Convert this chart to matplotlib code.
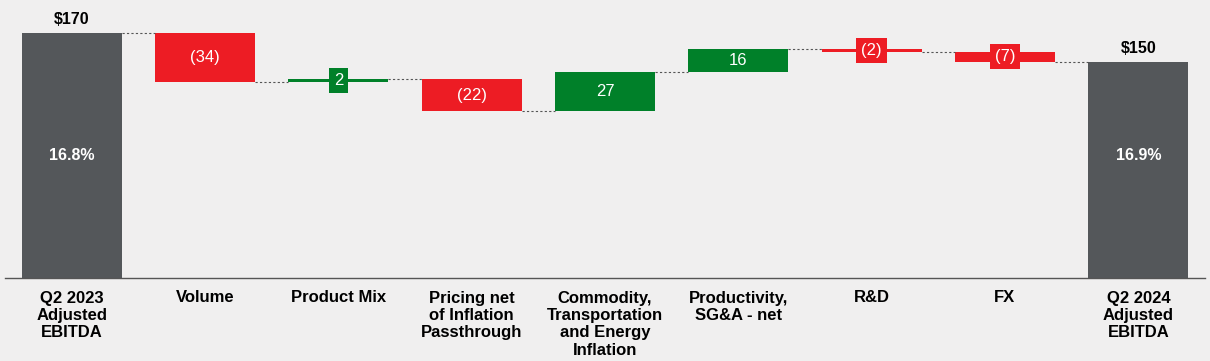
import numpy as np
import matplotlib.pyplot as plt
from matplotlib import font_manager

categories = ['Q2 2023\nAdjusted\nEBITDA', 'Volume', 'Product Mix',
              'Pricing net\nof Inflation\nPassthrough',
              'Commodity,\nTransportation\nand Energy\nInflation',
              'Productivity,\nSG&A - net', 'R&D', 'FX',
              'Q2 2024\nAdjusted\nEBITDA']
start_value = 170
end_value = 150
changes = [-34, 2, -22, 27, 16, -2, -7]
margins = ['16.8%', '16.9%']

names = {f.name for f in font_manager.fontManager.ttflist}
fam = 'Liberation Sans Narrow' if 'Liberation Sans Narrow' in names else 'Liberation Sans'
plt.rcParams['font.family'] = [fam, 'DejaVu Sans']

bg = '#f0efef'
dark = '#54575a'
red = '#ed1c24'
green = '#008029'

fig = plt.figure(figsize=(12.1, 3.61), dpi=100, facecolor=bg)
ax = fig.add_axes([5 / 1210, 83 / 361, 1200 / 1210, 278 / 361])
ax.set_facecolor(bg)

n = len(categories)
x = np.arange(n)
w = 0.75

# totals
ax.bar(0, start_value, width=w, color=dark)
ax.bar(n - 1, end_value, width=w, color=dark)
ax.text(0, start_value + 4, '$%d' % start_value, ha='center', va='bottom',
        fontsize=11.5, fontweight='bold')
ax.text(n - 1, end_value + 4, '$%d' % end_value, ha='center', va='bottom',
        fontsize=11.5, fontweight='bold')
ax.text(0, 85, margins[0], ha='center', va='center', color='white',
        fontsize=11.5, fontweight='bold')
ax.text(n - 1, 85, margins[1], ha='center', va='center', color='white',
        fontsize=11.5, fontweight='bold')

level = start_value
levels = [level]
for i, c in enumerate(changes):
    pos = i + 1
    bottom = level if c > 0 else level + c
    col = green if c > 0 else red
    ax.bar(pos, abs(c), bottom=bottom, width=w, color=col)
    lab = str(c) if c > 0 else '(%d)' % abs(c)
    mid = bottom + abs(c) / 2
    if abs(c) < 10:
        ax.text(pos, mid, lab, ha='center', va='center', color='white', fontsize=12,
                bbox=dict(boxstyle='square,pad=0.3', fc=col, ec='none'))
    else:
        ax.text(pos, mid, lab, ha='center', va='center', color='white', fontsize=12)
    level += c
    levels.append(level)

# dashed connectors
for i, lv in enumerate(levels):
    ax.plot([i + w / 2, i + 1 - w / 2], [lv, lv], color='#555555', lw=0.8,
            ls=(0, (2, 2)))

ax.set_xlim(-0.5, n - 0.5)
ax.set_ylim(0, 193)
for s in ['top', 'right', 'left']:
    ax.spines[s].set_visible(False)
ax.spines['bottom'].set_color('#555555')
ax.spines['bottom'].set_linewidth(1)
ax.set_yticks([])
ax.set_xticks(x)
ax.set_xticklabels(categories, fontsize=12, fontweight='bold', linespacing=1.2,
                   va='top')
ax.tick_params(axis='x', length=0, pad=9)

fig.savefig('out.png', dpi=100, facecolor=bg)
